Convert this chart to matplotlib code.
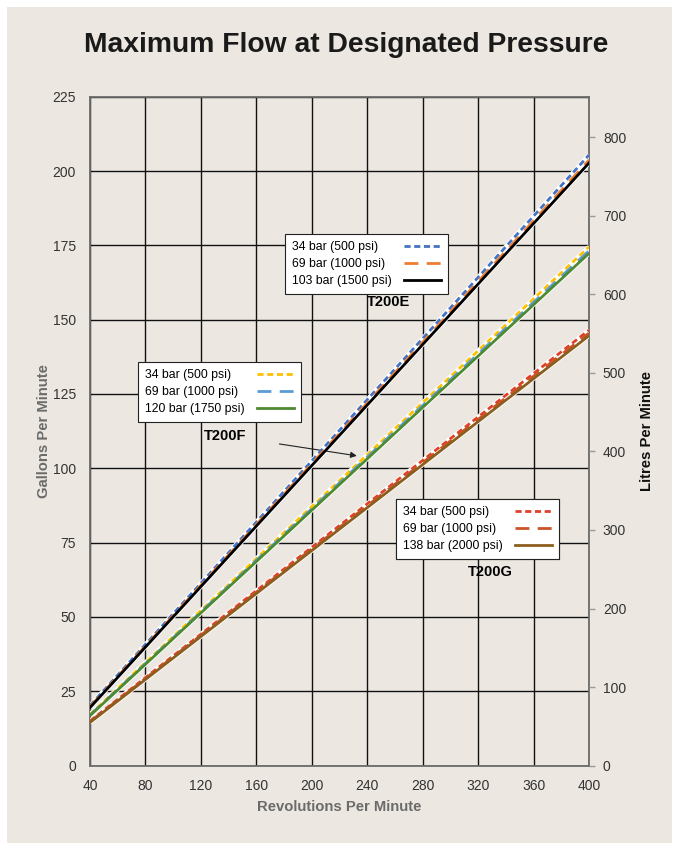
import matplotlib
matplotlib.use('Agg')
import matplotlib.pyplot as plt
from matplotlib.patches import Rectangle

BG = '#ece8e1'
rpm = [40, 400]

# T200E
e_500 = [20.2, 205.4]
e_1000 = [19.8, 203.7]
e_1500 = [19.5, 202.7]
# T200F
f_500 = [17.2, 174.5]
f_1000 = [17.0, 173.2]
f_1750 = [16.8, 172.3]
# T200G
g_500 = [15.0, 146.5]
g_1000 = [14.8, 145.5]
g_2000 = [14.5, 144.6]

GAL_TO_L = 3.785
DPI = 100

plt.rcParams['font.family'] = ['Liberation Sans', 'DejaVu Sans']

fig = plt.figure(figsize=(6.78, 8.5), dpi=DPI, facecolor='white')
fig.patches.append(Rectangle((7 / 678, 7 / 850), 665 / 678, 836 / 850,
                             transform=fig.transFigure, facecolor=BG,
                             edgecolor='none', zorder=-10))

ax = fig.add_axes([90 / 678, 1 - 765.6 / 850, 499 / 678, 668.9 / 850])
ax.set_facecolor(BG)
ax.set_xlim(40, 400)
ax.set_ylim(0, 225)
ax.set_xticks(range(40, 401, 40))
ax.set_yticks(range(0, 226, 25))
ax.grid(True, color='#111111', lw=1.0)
ax.set_axisbelow(True)
for s in ax.spines.values():
    s.set_color('#6b6b6b')
    s.set_linewidth(1.3)
ax.tick_params(length=0, labelsize=10, colors='#333333')
ax.tick_params(axis='x', pad=10)
ax.tick_params(axis='y', pad=10)

styles = {
    'short': dict(dashes=(2.2, 1.3)),
    'long': dict(dashes=(5, 3)),
    'solid': dict(linestyle='-'),
}


def draw(vals, color, kind, label):
    ax.plot(rpm, vals, color='white', lw=3.2, solid_capstyle='butt', zorder=3)
    line, = ax.plot(rpm, vals, color=color, lw=2.0, label=label, zorder=4,
                    **styles[kind])
    return line


h_e = [draw(e_500, '#4472c4', 'short', '34 bar (500 psi)'),
       draw(e_1000, '#ed7d31', 'long', '69 bar (1000 psi)'),
       draw(e_1500, '#000000', 'solid', '103 bar (1500 psi)')]
h_f = [draw(f_500, '#ffc000', 'short', '34 bar (500 psi)'),
       draw(f_1000, '#5b9bd5', 'long', '69 bar (1000 psi)'),
       draw(f_1750, '#4e8a32', 'solid', '120 bar (1750 psi)')]
h_g = [draw(g_500, '#e0402a', 'short', '34 bar (500 psi)'),
       draw(g_1000, '#cc5328', 'long', '69 bar (1000 psi)'),
       draw(g_2000, '#8c5e1e', 'solid', '138 bar (2000 psi)')]

leg_kw = dict(markerfirst=False, frameon=True, fancybox=False, fontsize=8.8,
              handlelength=3.0, handletextpad=1.0, borderpad=0.6,
              borderaxespad=0, labelspacing=0.4, framealpha=1,
              edgecolor='#222222', facecolor='white')

renderer = fig.canvas.get_renderer()


def make_legend(handles, loc):
    lg = ax.legend(handles=handles, loc='upper left', bbox_to_anchor=loc,
                   bbox_transform=fig.transFigure, **leg_kw)
    lg.get_frame().set_linewidth(0.8)
    # left-align the labels, keep the line samples lined up on the right
    col = lg._legend_handle_box.get_children()[0]
    col.align = 'left'
    widths = [t.get_window_extent(renderer).width for t in lg.get_texts()]
    wmax = max(widths)
    for row, w in zip(col.get_children(), widths):
        row.sep = row.sep + (wmax - w) * 72 / DPI
    ax.add_artist(lg)
    return lg


make_legend(h_e, (285 / 678, 1 - 234 / 850))
make_legend(h_f, (138 / 678, 1 - 362 / 850))
make_legend(h_g, (396 / 678, 1 - 499 / 850))

ax.text(255, 156, 'T200E', fontsize=10.5, fontweight='bold', ha='center', va='center')
ax.annotate('T200F', xy=(232.5, 104.2), xytext=(137.5, 111),
            fontsize=10.5, fontweight='bold', ha='center', va='center',
            arrowprops=dict(arrowstyle='-|>', color='#222222', lw=0.8,
                            mutation_scale=9, shrinkA=22, shrinkB=0))
ax.text(328.5, 65, 'T200G', fontsize=10.5, fontweight='bold', ha='center', va='center')

ax.set_xlabel('Revolutions Per Minute', fontsize=10.7, fontweight='bold',
              color='#6b6b6b', labelpad=5)
ax.set_ylabel('Gallons Per Minute', fontsize=10.7, fontweight='bold',
              color='#6b6b6b', labelpad=1)

ax2 = ax.twinx()
ax2.set_ylim(0, 225 * GAL_TO_L)
ax2.set_yticks(range(0, 801, 100))
ax2.tick_params(length=4, width=1, colors='#999999', labelcolor='#333333',
                labelsize=10, pad=6)
for s in ax2.spines.values():
    s.set_visible(False)
ax2.set_ylabel('Litres Per Minute', fontsize=10.7, fontweight='bold',
               color='#111111', labelpad=10)

fig.text(346 / 678, 1 - 45 / 850, 'Maximum Flow at Designated Pressure',
         fontsize=20.3, fontweight='bold', ha='center', va='center', color='#1a1a1a')

fig.savefig('out.png', dpi=DPI, facecolor='white')
